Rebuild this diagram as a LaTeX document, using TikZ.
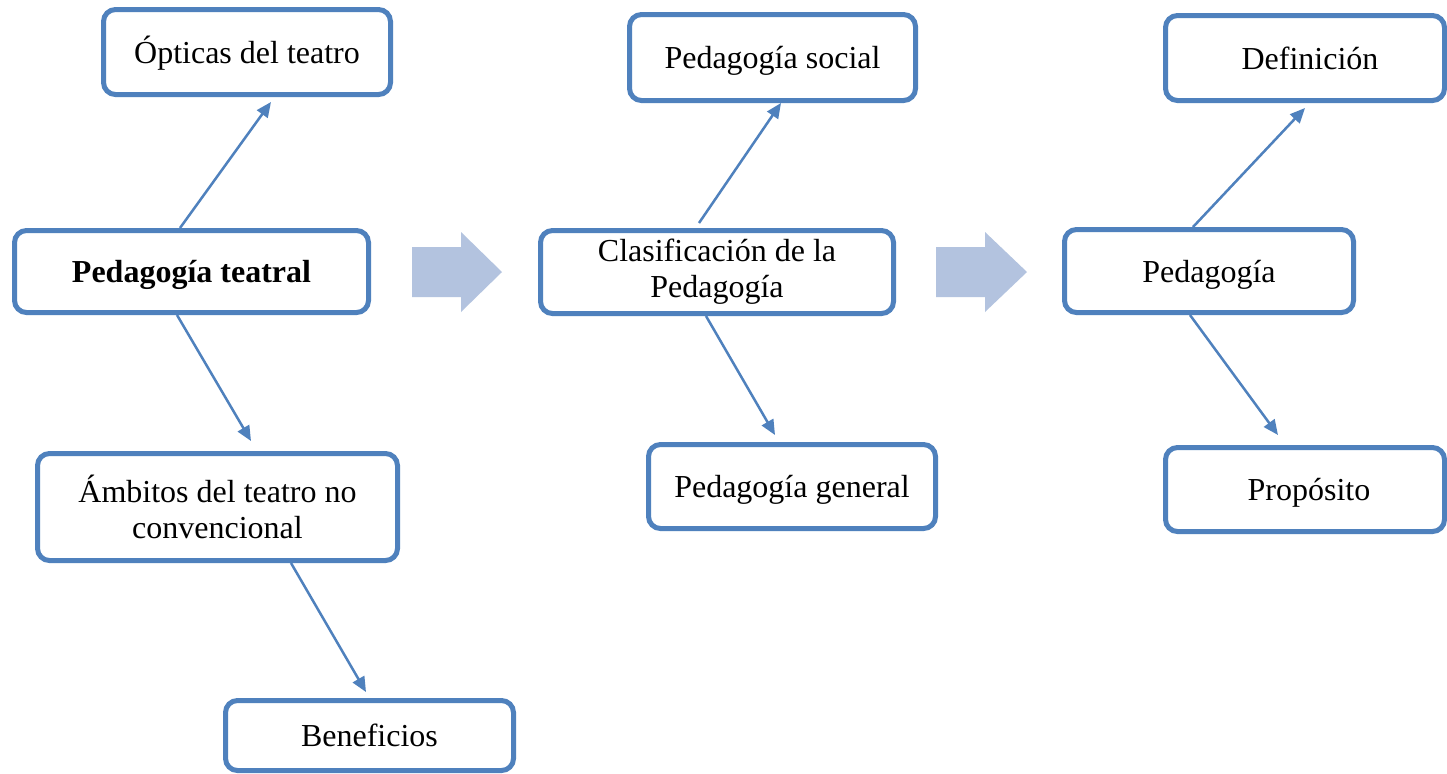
\documentclass[tikz,border=0pt]{standalone}
\usepackage{fontspec}
\setmainfont{Liberation Serif}
\usetikzlibrary{arrows.meta}
\definecolor{boxblue}{HTML}{4F81BD}
\definecolor{linkblue}{HTML}{4F81BD}
\definecolor{bigarrow}{HTML}{B3C3DF}
\tikzset{
  box/.style={draw=boxblue, line width=2.5pt, rounded corners=6pt, fill=white,
    inner sep=0pt, align=center, text=black,
    font=\fontsize{16}{18}\selectfont},
  single/.style={box, text height=12.5pt, text depth=1.5pt},
  conn/.style={draw=linkblue, line width=1.25pt,
    -{Triangle[length=7.5pt,width=6.5pt]}},
  blockarrow/.style={fill=bigarrow, draw=none}
}
\begin{document}
\begin{tikzpicture}[x=0.5pt, y=-0.5pt]
\path[fill=white] (0,0) rectangle (1447,773);
\useasboundingbox (0,0) rectangle (1447,773);

% nodes (sizes = outer size minus line width)
\node[single, minimum width=143.5pt, minimum height=42.5pt] (optic) at (247,52) {Ópticas del teatro};
\node[single, minimum width=177pt, minimum height=41pt] (teatral) at (191.5,271.5) {\bfseries Pedagogía teatral};
\node[box, minimum width=180pt, minimum height=53.5pt] (ambitos) at (217.5,507) {Ámbitos del teatro no\\convencional};
\node[single, minimum width=144pt, minimum height=35pt] (benef) at (369.5,735.5) {Beneficios};

\node[box, minimum width=176.5pt, minimum height=41.5pt] (clasif) at (717,272) {Clasificación de la\\Pedagogía};
\node[single, minimum width=143pt, minimum height=43pt] (social) at (772.5,57.5) {Pedagogía social};
\node[single, minimum width=143.5pt, minimum height=42pt] (general) at (792,486.5) {Pedagogía general};

\node[single, minimum width=144.5pt, minimum height=41.5pt] (pedag) at (1209,271) {Pedagogía};
\node[single, minimum width=139.5pt, minimum height=42.5pt] (defin) at (1305,58) {\hspace*{5pt}Definición};
\node[single, minimum width=139.5pt, minimum height=42pt] (prop) at (1305,489.5) {\hspace*{4pt}Propósito};

% connectors
\draw[conn] ([shift={(-11.5,0)}]teatral.north) -- ([shift={(24,5)}]optic.south);
\draw[conn] ([shift={(-14.5,0)}]teatral.south) -- ([shift={(33.5,-10)}]ambitos.north);
\draw[conn] ([shift={(73.5,0)}]ambitos.south) -- ([shift={(-3.5,-6)}]benef.north);
\draw[conn] ([shift={(-18,-5)}]clasif.north) -- ([shift={(8.5,0)}]social.south);
\draw[conn] ([shift={(-11,0)}]clasif.south) -- ([shift={(-17,-7)}]general.north);
\draw[conn] ([shift={(-16,0)}]pedag.north) -- ([shift={(0,5)}]defin.south);
\draw[conn] ([shift={(-19,0)}]pedag.south) -- ([shift={(-27,-10)}]prop.north);

% big block arrows
\path[blockarrow] (412,247) -- (461,247) -- (461,232) -- (502,272) -- (461,312) -- (461,297) -- (412,297) -- cycle;
\path[blockarrow] (936,247) -- (985,247) -- (985,232) -- (1027,272) -- (985,312) -- (985,297) -- (936,297) -- cycle;
\end{tikzpicture}
\end{document}
